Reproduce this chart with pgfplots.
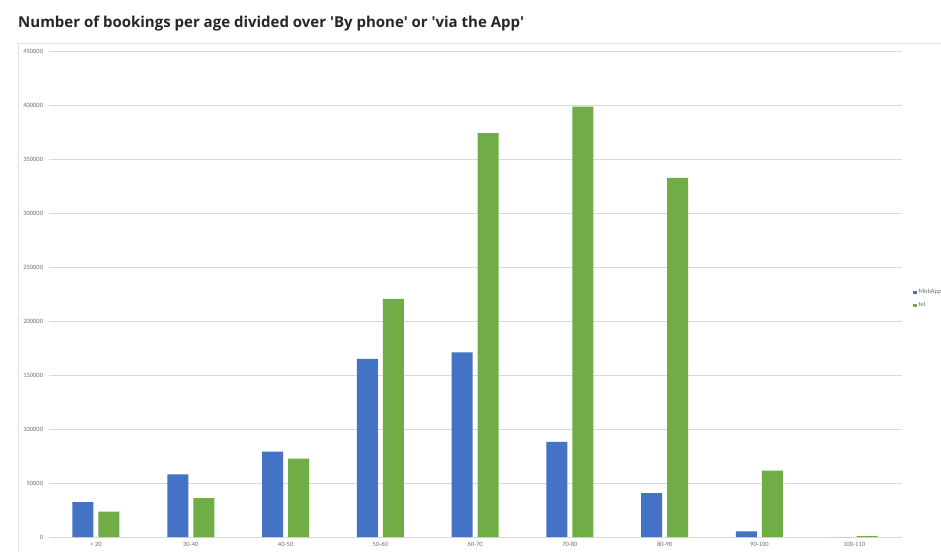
\documentclass[border=0pt]{standalone}
\usepackage{fontspec}
\setmainfont{Carlito}
\newfontfamily\titlefont{Open Sans}
\usepackage{pgfplots}
\pgfplotsset{compat=1.18}
\definecolor{appblue}{HTML}{4472C4}
\definecolor{telgreen}{HTML}{70AD47}
\definecolor{gridgray}{HTML}{D9D9D9}
\definecolor{labgray}{HTML}{6F6F6F}
\begin{document}
\begin{tikzpicture}[x=1pt,y=1pt]
\useasboundingbox (0,0) rectangle (941,552);
\fill[white] (0,0) rectangle (941,552);
\draw[gridgray!80, line width=0.6pt] (18.5,0) -- (18.5,509) -- (941,509);
\node[anchor=base west, inner sep=0pt, font=\titlefont\bfseries\fontsize{15}{17}\selectfont, text=black!85] at (18,524.5) {Number of bookings per age divided over 'By phone' or 'via the App'};
\begin{axis}[
  at={(48.6pt,15pt)}, anchor=south west,
  scale only axis, width=853pt, height=486pt,
  xmin=-0.5, xmax=8.5, ymin=0, ymax=450000,
  ybar=5pt, bar width=21pt,
  axis line style={draw=none},
  xtick={0,...,8},
  xticklabels={< 20,30-40,40-50,50-60,60-70,70-80,80-90,90-100,100-110},
  ytick={0,50000,...,450000},
  scaled y ticks=false,
  /pgf/number format/assume math mode=true,
  yticklabel={\pgfmathprintnumber[fixed,1000 sep={}]{\tick}},
  major tick length=0pt,
  ymajorgrids, grid style={gridgray, line width=0.6pt},
  tick label style={font=\fontsize{6.5}{7}\selectfont, text=labgray},
  xticklabel style={yshift=-2pt},
  yticklabel style={xshift=-2pt},
  legend cell align=left,
  legend style={at={(1.01,0.49)}, anchor=west, draw=none, fill=none,
    font=\fontsize{6.5}{7}\selectfont, text=labgray, row sep=3pt,
    /tikz/every even column/.append style={column sep=1pt}},
  legend image code/.code={\fill[#1] (0pt,-1.6pt) rectangle (3.2pt,1.6pt);},
]
\addplot[fill=appblue, draw=none] coordinates {(0,32400) (1,58000) (2,79000) (3,165000) (4,171000) (5,88000) (6,40700) (7,5200) (8,0)};
\addplot[fill=telgreen, draw=none] coordinates {(0,23400) (1,36100) (2,72500) (3,220500) (4,374000) (5,398500) (6,332500) (7,61400) (8,900)};
\legend{MobApp, tel}
\end{axis}
\end{tikzpicture}
\end{document}
